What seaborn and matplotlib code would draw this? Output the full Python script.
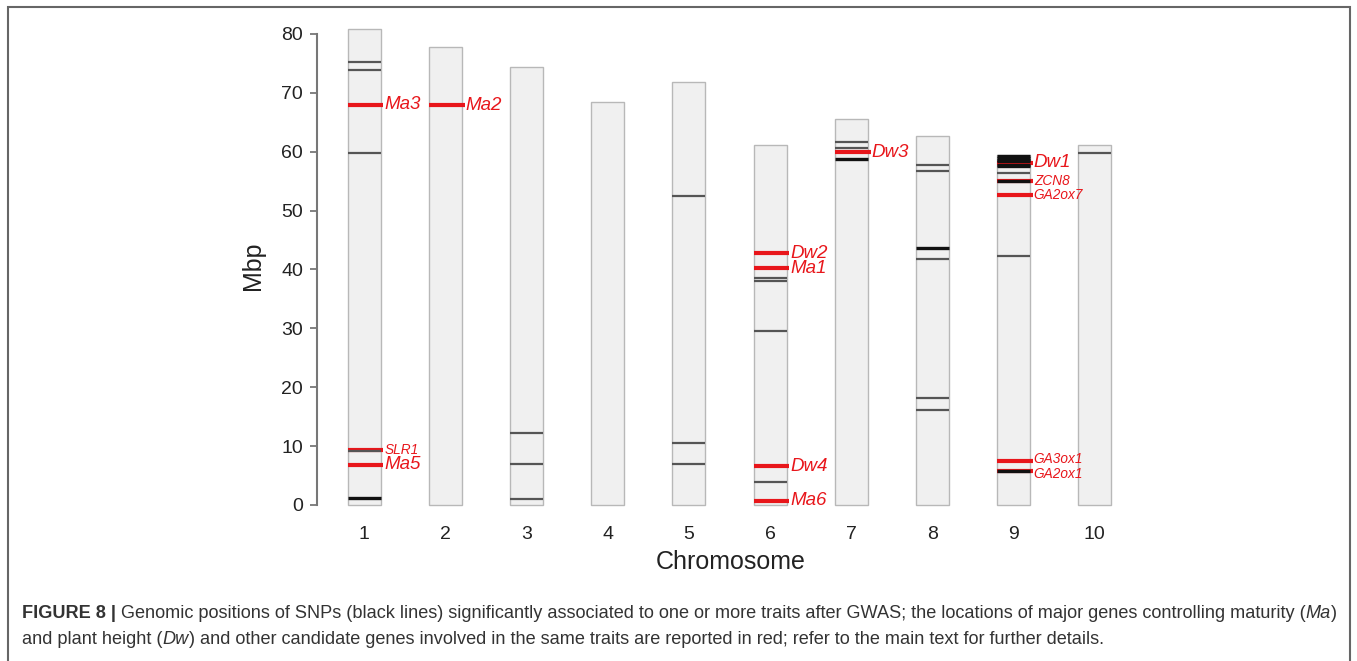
import pandas as pd
import numpy as np
import matplotlib.pyplot as plt
from matplotlib.patches import Rectangle
import seaborn as sns

# chromosome lengths (Mbp)
chroms = [1, 2, 3, 4, 5, 6, 7, 8, 9, 10]
lengths = [80.8, 77.8, 74.4, 68.5, 71.8, 61.1, 65.5, 62.6, 59.4, 61.2]

# significant SNPs: (chromosome, position) - grey vs dark lines
snp_grey = [(1, 75.3), (1, 73.8), (1, 59.8), (1, 9.1),
            (3, 12.3), (3, 6.9), (3, 1.0),
            (5, 52.5), (5, 10.5), (5, 6.9),
            (6, 38.5), (6, 38.0), (6, 29.5), (6, 3.9),
            (7, 61.6), (7, 60.6),
            (8, 57.8), (8, 56.7), (8, 41.7), (8, 18.1), (8, 16.2),
            (9, 56.4), (9, 42.3),
            (10, 59.8)]
snp_dark = [(1, 1.2), (7, 58.8), (8, 43.7),
            (9, 59.2), (9, 58.9), (9, 58.6), (9, 58.4), (9, 57.8), (9, 57.6),
            (9, 55.0), (9, 5.7)]

# candidate / major genes (red)
gene_chr = [1, 1, 1, 2, 6, 6, 6, 6, 7, 9, 9, 9, 9, 9]
gene_pos = [68.0, 9.4, 6.8, 67.9, 42.8, 40.2, 6.6, 0.7, 59.9, 58.1, 55.0, 52.7, 7.4, 5.7]
gene_lab = ['Ma3', 'SLR1', 'Ma5', 'Ma2', 'Dw2', 'Ma1', 'Dw4', 'Ma6', 'Dw3',
            'Dw1', 'ZCN8', 'GA2ox7', 'GA3ox1', 'GA2ox1']
small_labels = {'SLR1', 'ZCN8', 'GA2ox7', 'GA3ox1', 'GA2ox1'}
# small nudge (points) for the two crowded labels on chr 9
nudge = {'GA3ox1': 1.5, 'GA2ox1': -1.5}

df = pd.DataFrame({'chrom': chroms, 'length': lengths})

sns.set_style('white')
plt.rcParams['font.family'] = ['Liberation Sans', 'DejaVu Sans']

fig = plt.figure(figsize=(13.57, 6.61), dpi=100)
ax = fig.add_axes([0.2336, 0.2289, 0.6091, 0.7375])

half = 0.203
sns.barplot(data=df, x='chrom', y='length', native_scale=True, width=2 * half,
            color='#f0f0f0', saturation=1, errorbar=None,
            edgecolor='#b8b8b8', linewidth=1.0, ax=ax, zorder=1)

red = '#e8161b'
for c, p in zip(gene_chr, gene_pos):
    ax.plot([c - half, c + half + 0.035], [p, p], color=red, lw=3, zorder=2,
            solid_capstyle='butt')

for c, p in snp_grey:
    ax.plot([c - half, c + half], [p, p], color='#555555', lw=1.6, zorder=3,
            solid_capstyle='butt')
for c, p in snp_dark:
    ax.plot([c - half, c + half], [p, p], color='#111111', lw=2.4, zorder=3,
            solid_capstyle='butt')

for c, p, lab in zip(gene_chr, gene_pos, gene_lab):
    fs = 9.8 if lab in small_labels else 13.5
    ax.annotate(lab, xy=(c + half + 0.045, p), xytext=(0, nudge.get(lab, 0)),
                textcoords='offset points', color=red, fontsize=fs,
                style='italic', va='center', ha='left', zorder=4)

ax.set_xlim(0.42, 10.6)
ax.set_ylim(-0.8, 82)
ax.set_xticks(chroms)
ax.set_xticklabels([str(c) for c in chroms])
ax.set_yticks(range(0, 81, 10))
for s in ['top', 'right', 'bottom']:
    ax.spines[s].set_visible(False)
ax.spines['left'].set_bounds(0, 80)
ax.spines['left'].set_color('#777777')
ax.spines['left'].set_linewidth(1.5)
ax.tick_params(axis='y', length=5, width=1.3, color='#777777', left=True,
               labelsize=14, labelcolor='#222222', pad=5)
ax.tick_params(axis='x', length=0, labelsize=14, labelcolor='#222222', pad=12)
ax.set_xlabel('Chromosome', fontsize=18, color='#222222', labelpad=5)
ax.set_ylabel('Mbp', fontsize=18, color='#222222', labelpad=12)
ax.grid(False)

# outer frame
fig.patches.append(Rectangle((8 / 1357, -0.02), 1342 / 1357, 1 - 7 / 661 + 0.02,
                             transform=fig.transFigure, fill=False,
                             edgecolor='#666666', lw=1.5))

# caption with mixed styles
renderer = fig.canvas.get_renderer()


def draw_line(parts, x0, y):
    x = x0
    for txt, kw in parts:
        t = fig.text(x, y, txt, fontsize=13.05, color='#333333', va='center',
                     ha='left', **kw)
        bb = t.get_window_extent(renderer=renderer)
        x += bb.width / fig.bbox.width


line1 = [('FIGURE 8 | ', {'weight': 'bold'}),
         ('Genomic positions of SNPs (black lines) significantly associated to one or more '
          'traits after GWAS; the locations of major genes controlling maturity (', {}),
         ('Ma', {'style': 'italic'}),
         (')', {})]
line2 = [('and plant height (', {}),
         ('Dw', {'style': 'italic'}),
         (') and other candidate genes involved in the same traits are reported in red; '
          'refer to the main text for further details.', {})]
draw_line(line1, 22 / 1357, 1 - 613 / 661)
draw_line(line2, 22 / 1357, 1 - 640 / 661)

fig.savefig('out.png', dpi=100)
